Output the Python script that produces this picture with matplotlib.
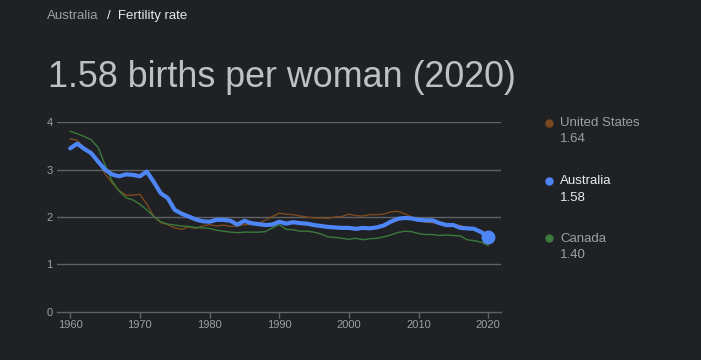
import matplotlib
matplotlib.use("Agg")
import matplotlib.pyplot as plt
from matplotlib.lines import Line2D

years = list(range(1960, 2021))
australia = [3.45, 3.55, 3.44, 3.35, 3.17, 3.00, 2.90, 2.86, 2.90, 2.89, 2.86, 2.96, 2.74,
             2.50, 2.40, 2.15, 2.07, 2.01, 1.95, 1.91, 1.90, 1.94, 1.94, 1.92, 1.84, 1.92,
             1.87, 1.85, 1.83, 1.84, 1.90, 1.86, 1.89, 1.87, 1.86, 1.83, 1.81, 1.79, 1.78,
             1.77, 1.77, 1.75, 1.77, 1.76, 1.78, 1.82, 1.90, 1.96, 1.98, 1.97, 1.94, 1.93,
             1.93, 1.87, 1.83, 1.83, 1.77, 1.76, 1.75, 1.68, 1.58]
united_states = [3.65, 3.62, 3.46, 3.32, 3.19, 2.91, 2.72, 2.56, 2.46, 2.46, 2.48, 2.27, 2.01,
                 1.88, 1.84, 1.77, 1.74, 1.79, 1.76, 1.81, 1.84, 1.81, 1.83, 1.80, 1.81, 1.84,
                 1.84, 1.87, 1.93, 2.01, 2.08, 2.06, 2.05, 2.02, 2.00, 1.98, 1.98, 1.97, 2.00,
                 2.01, 2.06, 2.03, 2.02, 2.05, 2.05, 2.06, 2.11, 2.12, 2.07, 2.00, 1.93, 1.89,
                 1.88, 1.86, 1.86, 1.84, 1.82, 1.77, 1.73, 1.71, 1.64]
canada = [3.81, 3.76, 3.70, 3.63, 3.47, 3.10, 2.76, 2.55, 2.41, 2.36, 2.27, 2.15, 2.01,
          1.90, 1.85, 1.83, 1.81, 1.80, 1.78, 1.77, 1.76, 1.72, 1.70, 1.68, 1.67, 1.68,
          1.68, 1.68, 1.69, 1.77, 1.84, 1.74, 1.73, 1.70, 1.70, 1.68, 1.64, 1.58, 1.57,
          1.55, 1.53, 1.55, 1.52, 1.54, 1.55, 1.58, 1.62, 1.67, 1.70, 1.69, 1.65, 1.63,
          1.63, 1.61, 1.62, 1.61, 1.60, 1.52, 1.50, 1.47, 1.40]

y_ticks = [0, 1, 2, 3, 4]
x_ticks = [1960, 1970, 1980, 1990, 2000, 2010, 2020]

legend_names = ["United States", "Australia", "Canada"]
legend_values = ["1.64", "1.58", "1.40"]

BG = "#202124"
GRID = "#5f6368"
TXT = "#9aa0a6"
WHITE = "#e8eaed"
BLUE = "#4f86f7"
BROWN = "#7a4a1e"
GREEN = "#3a7a3c"

plt.rcParams['font.family'] = ['Liberation Sans', 'DejaVu Sans']

W, H = 701, 360
fig = plt.figure(figsize=(W / 100, H / 100), dpi=100, facecolor=BG)

def fx(px):
    return px / W

def fy(py):
    return 1 - py / H

ax = fig.add_axes([fx(57), fy(311.7), fx(500.7) - fx(57), fy(122.3) - fy(311.7)])
ax.set_facecolor(BG)

ax.plot(years, united_states, color=BROWN, lw=1.0, zorder=2)
ax.plot(years, canada, color=GREEN, lw=1.0, zorder=2)
ax.plot(years, australia, color=BLUE, lw=3.0, zorder=3, solid_capstyle='round')
ax.plot([years[-1]], [australia[-1]], 'o', color=BLUE, ms=9, zorder=4, clip_on=False)

ax.set_xlim(1958.1, 2021.8)
ax.set_ylim(0, 4)
for s in ['top', 'right', 'left']:
    ax.spines[s].set_visible(False)
ax.spines['bottom'].set_color(GRID)
ax.spines['bottom'].set_linewidth(1)
for yv in y_ticks[1:]:
    ax.axhline(yv, color=GRID, lw=1, zorder=1)
ax.set_yticks(y_ticks)
ax.set_xticks(x_ticks)
ax.set_xticklabels([str(v) for v in x_ticks])
ax.tick_params(axis='y', length=0, pad=3, labelsize=8, labelcolor=TXT)
ax.tick_params(axis='x', length=4, width=1, color=GRID, pad=2, labelsize=8, labelcolor=TXT)

# breadcrumb
fig.text(fx(47), fy(16), "Australia", color=TXT, fontsize=9.5, va='center', ha='left')
fig.text(fx(107), fy(16), "/  Fertility rate", color=WHITE, fontsize=9.5, va='center', ha='left')

# headline
fig.text(fx(48), fy(87), "1.58 births per woman (2020)", color="#bdc1c6", fontsize=25.8,
         va='baseline', ha='left')

# legend
legend_colors = [BROWN, BLUE, GREEN]
legend_tops = [123, 181, 238]
for name, val, col, yy in zip(legend_names, legend_values, legend_colors, legend_tops):
    tc = WHITE if name == "Australia" else TXT
    fig.add_artist(Line2D([fx(549)], [fy(yy)], marker='o', color=col, ms=5, lw=0,
                          transform=fig.transFigure))
    fig.text(fx(560), fy(yy + 0.5), name, color=tc, fontsize=9.5, va='center', ha='left')
    fig.text(fx(560), fy(yy + 16.5), val, color=tc, fontsize=9.5, va='center', ha='left')

fig.savefig("out.png", dpi=100, facecolor=BG)
